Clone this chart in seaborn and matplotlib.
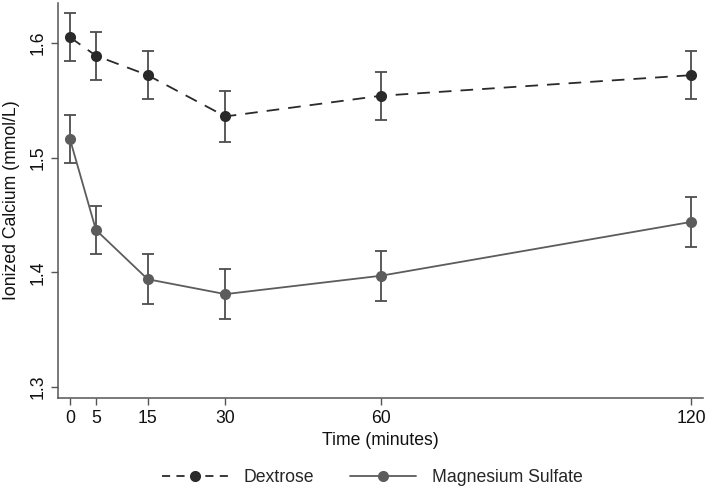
import matplotlib
matplotlib.use("agg")
import matplotlib.pyplot as plt
import pandas as pd
import seaborn as sns
from matplotlib.lines import Line2D

# time points (minutes)
times = [0, 5, 15, 30, 60, 120]
# mean ionized calcium and error half-widths
dextrose = [1.605, 1.589, 1.572, 1.536, 1.554, 1.572]
dextrose_err = [0.021, 0.021, 0.021, 0.022, 0.021, 0.021]
magnesium = [1.516, 1.437, 1.394, 1.381, 1.397, 1.444]
magnesium_err = [0.021, 0.021, 0.022, 0.022, 0.022, 0.022]

groups = ["Dextrose", "Magnesium Sulfate"]
colors = {"Dextrose": "#2a2a2a", "Magnesium Sulfate": "#5c5c5c"}

df = pd.DataFrame({
    "Time": times * 2,
    "Calcium": dextrose + magnesium,
    "err": dextrose_err + magnesium_err,
    "Group": [groups[0]] * len(times) + [groups[1]] * len(times),
})

sns.set_style("ticks")
plt.rcParams["font.family"] = ["Liberation Sans", "DejaVu Sans"]
fs = 12.7

fig = plt.figure(figsize=(7.09, 4.90), dpi=100)
ax = fig.add_axes([0.082, 0.188, 0.909, 0.806])

# error bars first so the markers sit on top
for g in groups:
    sub = df[df["Group"] == g]
    ax.errorbar(sub["Time"], sub["Calcium"], yerr=sub["err"], fmt="none",
                ecolor="#4d4d4d", elinewidth=1.3, capsize=4.5, capthick=1.3, zorder=2)

sns.lineplot(data=df, x="Time", y="Calcium", hue="Group", style="Group",
             palette=colors, dashes={"Dextrose": (7, 5), "Magnesium Sulfate": ""},
             markers={"Dextrose": "o", "Magnesium Sulfate": "o"},
             markersize=8, markeredgewidth=0, linewidth=1.3, legend=False,
             ax=ax, zorder=3)

ax.set_xlim(-2.3, 122.2)
ax.set_ylim(1.2905, 1.635)
ax.set_xticks(times)
ax.set_yticks([1.3, 1.4, 1.5, 1.6])
ax.set_yticklabels(["1.3", "1.4", "1.5", "1.6"], rotation=90, va="center")
ax.tick_params(labelsize=fs, length=5, width=1, color="#555555", labelcolor="#111111")
ax.set_xlabel("Time (minutes)", fontsize=fs, color="#111111", labelpad=4)
ax.set_ylabel("Ionized Calcium (mmol/L)", fontsize=fs, color="#111111", labelpad=7)
sns.despine(ax=ax)
for s in ["left", "bottom"]:
    ax.spines[s].set_color("#555555")
    ax.spines[s].set_linewidth(1.1)

handles = [
    Line2D([], [], color=colors["Dextrose"], linestyle=(0, (4.5, 3.5)), marker="o",
           markersize=8, markeredgewidth=0, linewidth=1.3),
    Line2D([], [], color=colors["Magnesium Sulfate"], linestyle="-", marker="o",
           markersize=8, markeredgewidth=0, linewidth=1.3),
]
fig.legend(handles, groups, loc="center", bbox_to_anchor=(0.525, 0.025), ncol=2,
           frameon=False, fontsize=fs, handlelength=3.75, columnspacing=2.0,
           handletextpad=0.9)

fig.savefig("out.png", dpi=100)
